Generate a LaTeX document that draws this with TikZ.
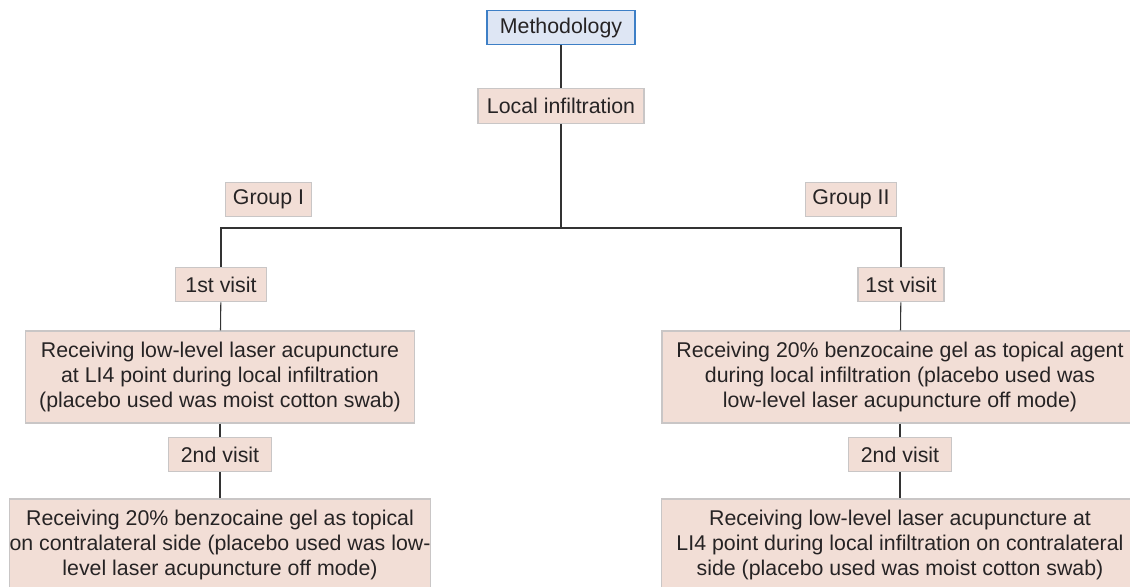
\documentclass[tikz,border=0pt]{standalone}
\usepackage{fontspec}
\setmainfont{Liberation Sans}
\definecolor{boxfill}{HTML}{F2DED6}
\definecolor{boxline}{HTML}{C9C6C6}
\definecolor{topfill}{HTML}{DEE6F4}
\definecolor{topline}{HTML}{3D7FC6}
\definecolor{linkline}{HTML}{333333}
\definecolor{inktext}{HTML}{262324}
\tikzset{
  stepbox/.style={draw=boxline, fill=boxfill, line width=0.9pt, text=inktext,
    inner xsep=5pt, minimum height=26pt, font=\fontsize{16}{18.4}\selectfont},
  bigbox/.style={stepbox, align=center, minimum height=69pt},
  topbox/.style={stepbox, draw=topline, fill=topfill},
  link/.style={draw=linkline, line width=0.8pt}
}
\begin{document}
\begin{tikzpicture}[x=0.75pt, y=-0.75pt]
            \useasboundingbox (0,0) rectangle (1130,586);
            \clip (0,0) rectangle (1130,586);

            % Marking top box
            \node [topbox, minimum width=111pt] (meth) at (561,27.5) {Methodology};%

            % Marking local infiltration
            \node [stepbox, minimum width=124.5pt] (linf) at (561,106) {Local infiltration};%

            % Marking groups (not linked)
            \node [stepbox, minimum width=65pt] (grpa) at (268.5,199.5) {Group I};%
            \node [stepbox, minimum width=65pt] (grpb) at (851,199.5) {Group II};%

            % Marking split point
            \coordinate (split) at (561,228);

            % Marking left column
            \node [stepbox, minimum width=68pt] (visa) at (221,284.5) {1st visit};%
            \node [bigbox, minimum width=292pt] (recaa) at (220,377)
              {Receiving low-level laser acupuncture\\at LI4 point during local infiltration\\(placebo used was moist cotton swab)};%
            \node [stepbox, minimum width=77pt] (visc) at (220,454.5) {2nd visit};%
            \node [bigbox, inner xsep=0pt, minimum width=314pt] (recab) at (220,545)
              {Receiving 20\% benzocaine gel as topical\\on contralateral side (placebo used was low-\\level laser acupuncture off mode)};%

            % Marking right column
            \node [stepbox, minimum width=64.5pt] (visb) at (901,284.5) {1st visit};%
            \node [bigbox, minimum width=357pt] (recba) at (900,377)
              {Receiving 20\% benzocaine gel as topical agent\\during local infiltration (placebo used was\\low-level laser acupuncture off mode)};%
            \node [stepbox, minimum width=77pt] (visd) at (900,454.5) {2nd visit};%
            \node [bigbox, minimum width=358pt] (recbb) at (900,545)
              {Receiving low-level laser acupuncture at\\LI4 point during local infiltration on contralateral\\side (placebo used was moist cotton swab)};%

            % Drawing trunk
            \draw [link] (meth) -- (linf);%
            \draw [link] (linf) -- (split);%
            \draw [link] (split) -| (visa);%
            \draw [link] (split) -| (visb);%

            % Drawing left chain
            \draw [link] (visa) -- (recaa);%
            \draw [link] (recaa) -- (visc);%
            \draw [link] (visc) -- (recab);%

            % Drawing right chain
            \draw [link] (visb) -- (recba);%
            \draw [link] (recba) -- (visd);%
            \draw [link] (visd) -- (recbb);%
\end{tikzpicture}
\end{document}
